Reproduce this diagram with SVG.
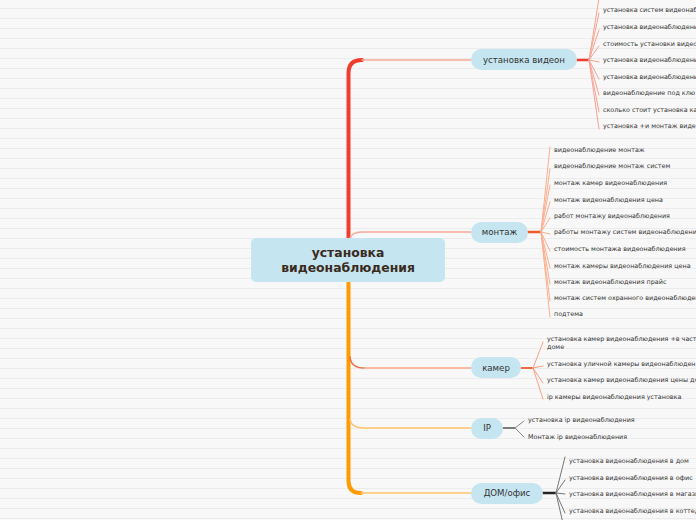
<svg xmlns="http://www.w3.org/2000/svg" width="696" height="520" viewBox="0 0 696 520">
<defs>
<pattern id="rules" width="696" height="10" patternUnits="userSpaceOnUse" y="0">
<rect width="696" height="10" fill="#f8f8f8"/>
<line x1="0" y1="8.5" x2="696" y2="8.5" stroke="#ececec" stroke-width="1"/>
</pattern>
</defs>
<style>
.node{fill:#c5e5f0}
.nt{font-family:"DejaVu Sans",Verdana,sans-serif;font-size:8.6px;fill:#333}
.ct{font-family:"DejaVu Sans",Verdana,sans-serif;font-size:12.4px;font-weight:bold;fill:#3a2a20}
.lt{font-family:"DejaVu Sans",Verdana,sans-serif;font-size:6.4px;fill:#333}
.c{fill:none;stroke-linecap:round}
.f1{stroke:#f8a294;stroke-width:1}
.f2{stroke:#fbb08e;stroke-width:1}
.f3{stroke:#f8a084;stroke-width:1}
.f4{stroke:#888;stroke-width:1}
.f5{stroke:#777;stroke-width:1}
</style>
<rect width="696" height="520" fill="url(#rules)"/>
<g id="connectors">
<path class="c" d="M348.5,238 L348.5,73 Q348.5,60 362,60" stroke="#ef3e2e" stroke-width="4"/>
<path class="c" d="M362,60 L471,60" stroke="#f8a898" stroke-width="1.5"/>
<path class="c" d="M350,239 Q351,232 362,232 L471,232" stroke="#f8a898" stroke-width="1.5"/>
<path class="c" d="M348.5,282 L348.5,481 Q348.5,493 361,493" stroke="#ff9a00" stroke-width="4"/>
<path class="c" d="M361,493 L471,493" stroke="#ffc46a" stroke-width="1.5"/>
<path class="c" d="M350,357 Q351,368 364,368" stroke="#f06a48" stroke-width="1.5"/>
<path class="c" d="M364,368 L471,368" stroke="#f8a888" stroke-width="1.5"/>
<path class="c" d="M350,419 Q351,428 364,428 L471,428" stroke="#ffc46a" stroke-width="1.5"/>
<path class="c" d="M577,60 L589,60" stroke="#ef3e2e" stroke-width="2.5"/>
<path class="c" d="M528,232 L541,232" stroke="#f05a28" stroke-width="2.5"/>
<path class="c" d="M521,368 L533,368" stroke="#f06a48" stroke-width="2"/>
<path class="c" d="M503,428 L515,428" stroke="#555" stroke-width="1.5"/>
<path class="c" d="M543,493 L556,493" stroke="#222" stroke-width="2.5"/>
<g class="c f1">
<path d="M589,60 L600,-8"/><path d="M589,60 L599,13"/><path d="M589,60 L599,30"/><path d="M589,60 L599,46"/><path d="M589,60 L599,62"/><path d="M589,60 L599,79"/><path d="M589,60 L599,95"/><path d="M589,60 L599,112"/><path d="M589,60 L599,129"/>
</g>
<g class="c f2">
<path d="M541,232 L550,147"/><path d="M541,232 L550,169"/><path d="M541,232 L550,185"/><path d="M541,232 L550,202"/><path d="M541,232 L550,218"/><path d="M541,232 L550,234"/><path d="M541,232 L550,251"/><path d="M541,232 L550,268"/><path d="M541,232 L550,284"/><path d="M541,232 L550,301"/><path d="M541,232 L550,317"/>
</g>
<g class="c f3">
<path d="M533,368 L543,342"/><path d="M533,368 L543,366"/><path d="M533,368 L543,383"/><path d="M533,368 L543,399"/>
</g>
<g class="c f4">
<path d="M515,428 L524,421"/><path d="M515,428 L524,437"/>
</g>
<g class="c f5">
<path d="M556,493 L565,457"/><path d="M556,493 L565,480"/><path d="M556,493 L565,494"/><path d="M556,493 L565,513"/><path d="M556,493 L565,532"/>
</g>
</g>
<g id="central">
<rect class="node" x="251" y="238" width="194" height="44" rx="5"/>
<text class="ct" x="348" y="257" text-anchor="middle">установка</text>
<text class="ct" x="348" y="272" text-anchor="middle">видеонаблюдения</text>
</g>
<g id="n1">
<rect class="node" x="471" y="49" width="106" height="21" rx="10.5"/>
<text class="nt" x="524" y="63" text-anchor="middle">установка видеон</text>
</g>
<g id="n2">
<rect class="node" x="471" y="222" width="57" height="21" rx="10.5"/>
<text class="nt" x="499.5" y="235" text-anchor="middle">монтаж</text>
</g>
<g id="n3">
<rect class="node" x="471" y="357" width="50" height="21" rx="10.5"/>
<text class="nt" x="496" y="371" text-anchor="middle">камер</text>
</g>
<g id="n4">
<rect class="node" x="471" y="418" width="32" height="21" rx="10.5"/>
<text class="nt" x="487" y="431" text-anchor="middle">IP</text>
</g>
<g id="n5">
<rect class="node" x="471" y="483" width="72" height="21" rx="10.5"/>
<text class="nt" x="507" y="496" text-anchor="middle">ДОМ/офис</text>
</g>
<g id="leaves1" class="lt">
<text x="603" y="12.3">установка систем видеонаб</text>
<text x="603" y="29">установка видеонаблюдени</text>
<text x="603" y="45.6">стоимость установки видео</text>
<text x="603" y="62.3">установка видеонаблюдени</text>
<text x="603" y="79">установка видеонаблюдени</text>
<text x="603" y="95">видеонаблюдение под клю</text>
<text x="603" y="111.6">сколько стоит установка ка</text>
<text x="603" y="128.3">установка +и монтаж виде</text>
</g>
<g id="leaves2" class="lt">
<text x="554" y="151.6">видеонаблюдение монтаж</text>
<text x="554" y="168.3">видеонаблюдение монтаж систем</text>
<text x="554" y="185">монтаж камер видеонаблюдения</text>
<text x="554" y="202.3">монтаж видеонаблюдения цена</text>
<text x="554" y="217.6">работ монтажу видеонаблюдения</text>
<text x="554" y="234.3">работы монтажу систем видеонаблюдения</text>
<text x="554" y="251">стоимость монтажа видеонаблюдения</text>
<text x="554" y="267.6">монтаж камеры видеонаблюдения цена</text>
<text x="554" y="283.6">монтаж видеонаблюдения прайс</text>
<text x="554" y="300.3">монтаж систем охранного видеонаблюден</text>
<text x="554" y="316.3">подтема</text>
</g>
<g id="leaves3" class="lt">
<text x="547" y="341.3">установка камер видеонаблюдения +в част</text>
<text x="547" y="349">доме</text>
<text x="547" y="365.6">установка уличной камеры видеонаблюден</text>
<text x="547" y="382.3">установка камер видеонаблюдения цены до</text>
<text x="547" y="399">ip камеры видеонаблюдения установка</text>
</g>
<g id="leaves4" class="lt">
<text x="528" y="422.3">установка ip видеонаблюдения</text>
<text x="528" y="439">Монтаж ip видеонаблюдения</text>
</g>
<g id="leaves5" class="lt">
<text x="569" y="463">установка видеонаблюдения в дом</text>
<text x="569" y="479.6">установка видеонаблюдения в офис</text>
<text x="569" y="495.6">установка видеонаблюдения в магази</text>
<text x="569" y="513">установка видеонаблюдения в коттед</text>
</g>
</svg>
